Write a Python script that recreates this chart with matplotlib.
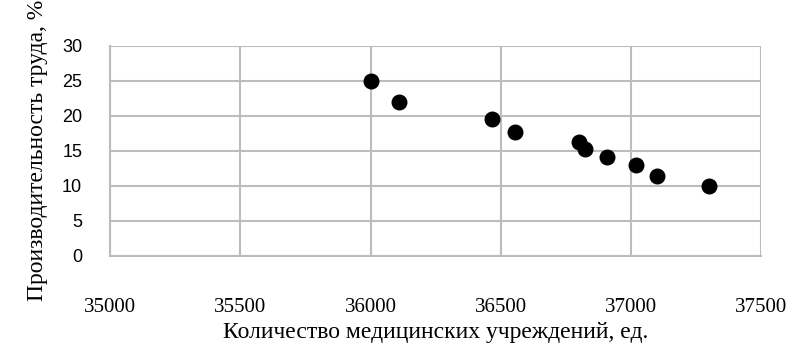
import matplotlib
matplotlib.use("Agg")
import matplotlib.pyplot as plt

# Количество медицинских учреждений, ед. / производительность труда, %
institutions = [36000, 36110, 36465, 36555, 36800, 36822, 36908, 37020, 37100, 37300]
productivity = [25.0, 22.0, 19.5, 17.7, 16.3, 15.2, 14.1, 12.9, 11.4, 10.0]

x_ticks = [35000, 35500, 36000, 36500, 37000, 37500]
y_ticks = [0, 5, 10, 15, 20, 25, 30]

grid_col = "#bcbcbc"

fig = plt.figure(figsize=(8.03, 3.53), dpi=100)
ax = fig.add_axes([0.137, 0.275, 0.811, 0.596])

ax.scatter(institutions, productivity, s=110, color="black", zorder=3)

ax.set_xlim(35000, 37500)
ax.set_ylim(0, 30)
ax.set_xticks(x_ticks)
ax.set_yticks(y_ticks)
ax.grid(True, color=grid_col, lw=1.5)
ax.set_axisbelow(True)
for sp in ax.spines.values():
    sp.set_color(grid_col)
    sp.set_linewidth(1.5)
ax.spines["top"].set_visible(False)
ax.spines["right"].set_visible(False)

ax.tick_params(length=0)
ax.tick_params(axis="x", pad=30)
ax.tick_params(axis="y", pad=20)
for lab in ax.get_xticklabels():
    lab.set_family(["Liberation Serif", "DejaVu Serif"])
    lab.set_fontsize(15)
for lab in ax.get_yticklabels():
    lab.set_family(["Liberation Sans", "DejaVu Sans"])
    lab.set_fontsize(13)

ax.set_xlabel("Количество медицинских учреждений, ед.", family="Liberation Serif",
              fontsize=17, labelpad=4)
ax.set_ylabel("Производительность труда, %", family="Liberation Serif",
              fontsize=17, labelpad=10)

fig.savefig("out.png", dpi=100)
